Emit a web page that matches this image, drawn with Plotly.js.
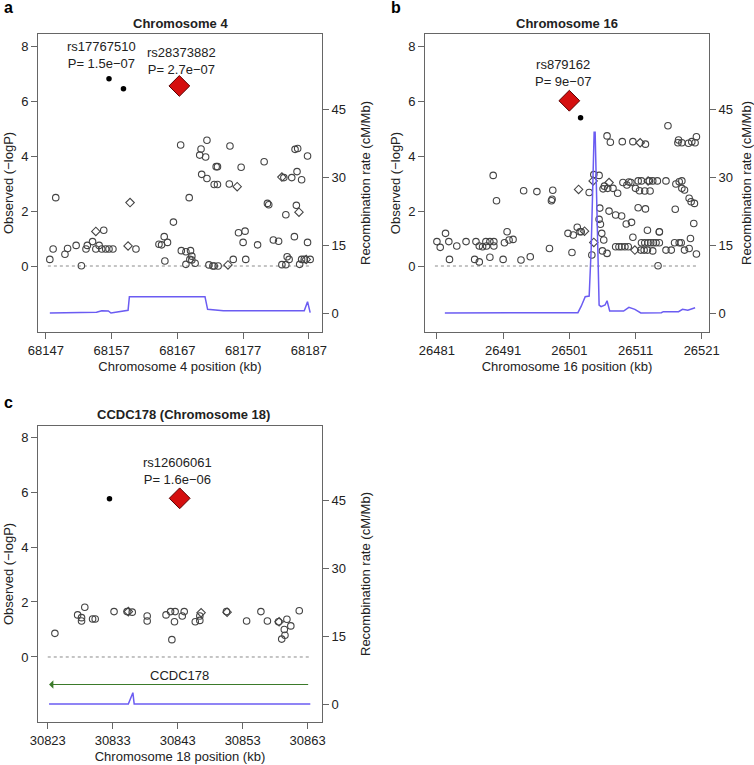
<!DOCTYPE html>
<html>
<head>
<meta charset="utf-8">
<script src="https://cdn.plot.ly/plotly-3.0.1.min.js"></script>
<style>html,body{margin:0;padding:0;background:#fff;}#chart{width:754px;height:765px;}</style>
</head>
<body>
<div id="chart"></div>
<script>
// ---------- Panel a : Chromosome 4 ----------
const aTicks = [68147, 68157, 68167, 68177, 68187];
const aCircleX = [68167.5,68171.5,68170.6,68170.4,68171.3,68172.9,68173.1,68175.0,68176.7,68180.2,68184.9,68185.3,68186.8,68170.7,68171.5,68172.6,68173.1,68174.9,68183.2,68184.4,68185.2,68185.9,68168.8,68180.7,68180.9,68183.5,68185.1,68184.8,68186.8,68166.4,68165.0,68165.5,68164.2,68164.6,68165.1,68167.6,68168.3,68169.0,68169.2,68168.9,68169.2,68168.3,68169.7,68171.8,68172.4,68172.6,68173.2,68175.5,68176.3,68177.3,68177.0,68177.4,68179.2,68181.6,68182.4,68182.9,68183.5,68183.7,68184.0,68185.6,68185.9,68186.3,68187.2,68147.6,68148.5,68148.1,68149.9,68150.3,68151.6,68152.4,68153.1,68153.3,68154.1,68154.6,68155.1,68155.5,68155.8,68156.1,68156.6,68157.2,68160.7];
const aCircleY = [4.41,4.58,4.26,4.04,3.97,3.62,3.62,4.37,3.60,3.80,4.25,4.28,4.01,3.34,3.19,2.97,2.97,2.99,3.22,3.22,3.44,3.14,2.49,2.28,2.23,1.87,2.21,1.07,0.86,1.60,1.07,0.86,0.79,0.77,0.18,0.56,0.52,0.56,0.36,0.24,0.22,0.06,0.10,0.04,0.0,0.0,0.0,0.24,1.21,1.27,0.86,0.24,0.77,0.95,0.90,0.05,0.05,0.34,0.24,0.06,0.24,0.24,0.24,0.24,2.49,0.62,0.43,0.64,0.75,0.01,0.62,0.75,0.89,0.62,0.75,0.62,1.30,0.62,0.62,0.62,0.62];
const aDiamondX = [68159.8,68154.6,68159.5,68176.1,68174.7,68185.5,68186.6,68182.9];
const aDiamondY = [2.31,1.26,0.73,2.89,0.04,1.96,0.24,3.24];
const aTopX = [68156.6, 68158.8];
const aTopY = [6.82, 6.46];
const aLeadX = [68167.3];
const aLeadY = [6.56];
const aRecX = [68147.6,68154.7,68155.5,68156.5,68156.9,68157.7,68159.5,68159.7,68171.2,68171.6,68174.0,68186.3,68186.8,68187.2];
const aRecY = [0,0.15,0.5,0.44,0,0.15,0.6,3.6,3.6,0.82,0.5,0.5,2.5,0.07];
const aZeroX = [68147.3, 68187.2];

// ---------- Panel b : Chromosome 16 ----------
const bTicks = [26481, 26491, 26501, 26511, 26521];
const bCircleX = [26515.9,26506.7,26507.2,26509.0,26510.6,26512.5,26517.5,26517.4,26518.0,26519.0,26519.5,26520.0,26520.2,26489.5,26504.7,26505.5,26490.0,26494.1,26496.1,26498.5,26498.3,26498.4,26504.0,26506.1,26506.3,26506.8,26507.6,26508.3,26509.1,26509.7,26510.0,26510.3,26511.0,26511.4,26511.9,26511.6,26512.4,26513.2,26513.1,26513.6,26514.3,26515.6,26517.1,26517.6,26518.0,26518.0,26518.4,26519.1,26519.4,26519.9,26505.6,26507.0,26508.0,26508.9,26509.6,26510.4,26511.4,26512.5,26517.0,26519.8,26512.8,26514.6,26510.6,26505.5,26505.7,26505.9,26506.2,26506.0,26506.7,26481.0,26481.5,26482.3,26482.8,26482.9,26484.0,26485.4,26486.7,26487.4,26486.9,26487.4,26487.9,26488.4,26488.5,26489.0,26489.0,26489.6,26489.6,26491.0,26491.2,26491.6,26491.9,26492.5,26493.7,26495.1,26498.0,26500.8,26501.4,26501.6,26502.2,26502.6,26502.8,26504.4,26508.0,26508.5,26508.9,26509.4,26509.9,26511.8,26512.3,26512.8,26513.6,26511.9,26512.4,26512.9,26513.3,26513.7,26514.1,26514.6,26514.4,26514.6,26515.6,26516.4,26516.9,26517.6,26517.9,26518.4,26519.1,26519.3,26520.2];
const bCircleY = [5.11,4.74,4.51,4.53,4.53,4.44,4.59,4.49,4.49,4.47,4.53,4.49,4.71,3.30,3.33,3.30,2.38,2.74,2.71,2.76,2.38,2.43,2.68,2.81,2.91,2.83,2.83,2.65,3.04,2.95,3.06,3.04,2.83,3.10,3.10,2.74,2.73,2.73,3.10,3.10,3.10,3.10,2.99,3.07,3.10,2.83,2.77,2.47,2.34,2.28,2.11,2.00,1.86,1.82,1.53,1.59,2.12,2.08,2.07,1.55,1.30,1.25,1.05,1.70,1.52,1.19,0.95,0.55,0.46,0.89,0.68,1.19,0.89,0.24,0.73,0.89,0.24,0.15,0.89,0.73,0.70,0.89,0.73,0.32,0.89,0.89,0.73,0.24,0.85,1.25,0.95,0.97,0.22,0.34,0.64,1.19,0.49,1.13,1.41,1.25,1.25,0.40,0.70,0.70,0.70,0.70,0.70,0.58,0.58,0.58,0.55,0.85,0.85,0.85,0.85,0.85,0.85,0.85,0.01,1.24,0.58,0.58,0.85,0.85,0.85,0.58,0.64,1.00,0.44];
const bDiamondX = [26502.4,26504.6,26507.0,26504.7,26511.7,26510.9,26503.3,26512.9];
const bDiamondY = [2.79,3.10,3.04,0.86,4.49,0.58,1.27,3.10];
const bTopX = [26502.7];
const bTopY = [5.40];
const bLeadX = [26501.0];
const bLeadY = [6.02];
const bRecX = [26482.2,26502.3,26502.8,26503.4,26504.0,26504.3,26504.75,26504.9,26505.5,26505.8,26506.4,26506.7,26507.1,26509.2,26510.0,26510.9,26511.8,26514.9,26515.2,26517.5,26518.1,26518.9,26520.0];
const bRecY = [0,0.07,1.5,3.6,3.75,14,39.9,39.9,1.76,1.4,1.76,2.7,0.44,0.44,1.26,0.8,0,0.07,0.3,0.3,0.8,0.6,1.17];
const bZeroX = [26480.7, 26520.2];

// ---------- Panel c : CCDC178 (Chromosome 18) ----------
const cTicks = [30823, 30833, 30843, 30853, 30863];
const cCircleX = [30824.1,30827.6,30828.2,30828.2,30828.7,30829.9,30830.3,30833.2,30836.0,30838.3,30838.3,30841.2,30841.9,30842.6,30842.5,30842.1,30843.7,30844.0,30845.7,30846.4,30846.4,30850.5,30853.6,30855.8,30856.8,30858.5,30859.0,30859.5,30859.4,30859.8,30860.4,30861.7,30835.2];
const cCircleY = [0.86,1.53,1.43,1.31,1.81,1.38,1.38,1.65,1.63,1.49,1.31,1.53,1.65,1.65,1.28,0.63,1.49,1.65,1.28,1.49,1.33,1.65,1.31,1.65,1.31,1.28,0.65,0.79,1.00,1.37,1.13,1.68,1.65];
const cDiamondX = [30835.4,30846.6,30850.6,30858.6];
const cDiamondY = [1.65,1.61,1.63,1.28];
const cTopX = [30832.5];
const cTopY = [5.75];
const cLeadX = [30843.3];
const cLeadY = [5.77];
const cRecX = [30823.2,30835.4,30836.1,30836.3,30863.4];
const cRecY = [0,0,2.5,0,0];
const cZeroX = [30823.0, 30863.3];
const cGeneX = [30863.3, 30823.2];
const cGeneY = [-1, -1];
const cGeneName = 'CCDC178';

const leftTicks = [0, 2, 4, 6, 8];
const rightTicks = [0, 15, 30, 45];

const FONT = 'Liberation Sans, Arial, Helvetica, sans-serif';
const REC_COLOR = '#6b5cf2';
const PT_COLOR = '#444444';

function panelTraces(xa, ya, yr, d) {
  return [
    {x: d.zeroX, y: d.zeroX.map(() => 0), xaxis: xa, yaxis: ya, mode: 'lines',
     line: {color: '#8a8a8a', width: 1, dash: 'dot'}, hoverinfo: 'skip', showlegend: false},
    {x: d.cx, y: d.cy, xaxis: xa, yaxis: ya, mode: 'markers', showlegend: false,
     marker: {symbol: 'circle-open', size: 6.5, color: PT_COLOR, line: {width: 1.1, color: PT_COLOR}}},
    {x: d.dx, y: d.dy, xaxis: xa, yaxis: ya, mode: 'markers', showlegend: false,
     marker: {symbol: 'diamond-open', size: 6.5, color: PT_COLOR, line: {width: 1.1, color: PT_COLOR}}},
    {x: d.tx, y: d.ty, xaxis: xa, yaxis: ya, mode: 'markers', showlegend: false,
     marker: {symbol: 'circle', size: 5.5, color: '#000'}},
    {x: d.lx, y: d.ly, xaxis: xa, yaxis: ya, mode: 'markers', showlegend: false,
     marker: {symbol: 'diamond', size: 16, color: '#d50f0f', line: {width: 1, color: '#5a0000'}}},
    {x: d.rx, y: d.ry, xaxis: xa, yaxis: yr, mode: 'lines', showlegend: false,
     line: {color: REC_COLOR, width: 1.5}}
  ];
}

const data = [].concat(
  panelTraces('x', 'y', 'y2', {zeroX: aZeroX, cx: aCircleX, cy: aCircleY, dx: aDiamondX, dy: aDiamondY, tx: aTopX, ty: aTopY, lx: aLeadX, ly: aLeadY, rx: aRecX, ry: aRecY}),
  panelTraces('x2', 'y3', 'y4', {zeroX: bZeroX, cx: bCircleX, cy: bCircleY, dx: bDiamondX, dy: bDiamondY, tx: bTopX, ty: bTopY, lx: bLeadX, ly: bLeadY, rx: bRecX, ry: bRecY}),
  panelTraces('x3', 'y5', 'y6', {zeroX: cZeroX, cx: cCircleX, cy: cCircleY, dx: cDiamondX, dy: cDiamondY, tx: cTopX, ty: cTopY, lx: cLeadX, ly: cLeadY, rx: cRecX, ry: cRecY})
);

function xAxis(domain, range, ticks, anchor, title) {
  return {domain: domain, range: range, anchor: anchor, tickvals: ticks, ticktext: ticks.map(String),
    showline: true, mirror: true, linecolor: '#666', linewidth: 1, ticks: 'outside', ticklen: 6,
    tickcolor: '#666', showgrid: false, zeroline: false, tickfont: {size: 13, color: '#222', family: FONT},
    title: {text: title, standoff: 5, font: {size: 13, color: '#222', family: FONT}}, fixedrange: true};
}
function yLeft(domain, range, anchor) {
  return {domain: domain, range: range, anchor: anchor, tickvals: leftTicks, ticktext: leftTicks.map(String),
    showline: true, mirror: true, linecolor: '#666', linewidth: 1, ticks: 'outside', ticklen: 6,
    tickcolor: '#666', showgrid: false, zeroline: false, tickfont: {size: 13, color: '#222', family: FONT},
    title: {text: 'Observed (−logP)', standoff: 4, font: {size: 13, color: '#222', family: FONT}}};
}
function yRight(overlay, range, anchor) {
  return {overlaying: overlay, side: 'right', range: range, anchor: anchor, tickvals: rightTicks, ticktext: rightTicks.map(String),
    showline: false, ticks: 'outside', ticklen: 6, tickcolor: '#666', showgrid: false, zeroline: false,
    tickfont: {size: 13, color: '#222', family: FONT},
    title: {text: 'Recombination rate (cM/Mb)', standoff: 15, font: {size: 13, color: '#222', family: FONT}}};
}

const W = 754, H = 765;
const px = v => v / W, py = v => 1 - v / H;
const domA = [px(38), px(322)], domB = [px(425), px(709)];
const domTop = [py(332), py(34)], domBot = [py(722), py(426)];

const annFont = {size: 13, color: '#222', family: FONT};
const layout = {
  width: W, height: H, margin: {l: 0, r: 0, t: 0, b: 0},
  paper_bgcolor: '#fff', plot_bgcolor: '#fff', showlegend: false,
  font: {family: FONT, size: 13, color: '#222'},
  xaxis: xAxis(domA, [68145.8, 68189.0], aTicks, 'y', 'Chromosome 4 position (kb)'),
  yaxis: yLeft(domTop, [-2.404, 8.452], 'x'),
  yaxis2: yRight('y', [-4.19, 61.55], 'x'),
  xaxis2: xAxis(domB, [26479.2, 26522.1], bTicks, 'y3', 'Chromosome 16 position (kb)'),
  yaxis3: yLeft(domTop, [-2.404, 8.452], 'x2'),
  yaxis4: yRight('y3', [-4.19, 61.55], 'x2'),
  xaxis3: xAxis(domA, [30821.5, 30865.2], cTicks, 'y5', 'Chromosome 18 position (kb)'),
  yaxis5: yLeft(domBot, [-2.364, 8.4], 'x3'),
  yaxis6: yRight('y5', [-3.97, 61.33], 'x3'),
  annotations: [
    {xref: 'paper', yref: 'paper', x: px(2), y: py(8), xanchor: 'left', yanchor: 'middle', text: '<b>a</b>', showarrow: false, font: {size: 16, color: '#000', family: FONT}},
    {xref: 'paper', yref: 'paper', x: px(389), y: py(8), xanchor: 'left', yanchor: 'middle', text: '<b>b</b>', showarrow: false, font: {size: 16, color: '#000', family: FONT}},
    {xref: 'paper', yref: 'paper', x: px(2), y: py(402), xanchor: 'left', yanchor: 'middle', text: '<b>c</b>', showarrow: false, font: {size: 16, color: '#000', family: FONT}},
    {xref: 'paper', yref: 'paper', x: px(180), y: py(23), xanchor: 'center', yanchor: 'middle', text: '<b>Chromosome 4</b>', showarrow: false, font: annFont},
    {xref: 'paper', yref: 'paper', x: px(567), y: py(23), xanchor: 'center', yanchor: 'middle', text: '<b>Chromosome 16</b>', showarrow: false, font: annFont},
    {xref: 'paper', yref: 'paper', x: px(183), y: py(414), xanchor: 'center', yanchor: 'middle', text: '<b>CCDC178 (Chromosome 18)</b>', showarrow: false, font: annFont},
    {xref: 'x', yref: 'y', x: 68155.5, y: 7.67, text: 'rs17767510<br>P= 1.5e−07', showarrow: false, font: annFont},
    {xref: 'x', yref: 'y', x: 68167.7, y: 7.47, text: 'rs28373882<br>P= 2.7e−07', showarrow: false, font: annFont},
    {xref: 'x2', yref: 'y3', x: 26500.0, y: 7.03, text: 'rs879162<br>P= 9e−07', showarrow: false, font: annFont},
    {xref: 'x3', yref: 'y5', x: 30843.0, y: 6.76, text: 'rs12606061<br>P= 1.6e−06', showarrow: false, font: annFont},
    {xref: 'x3', yref: 'y5', x: cGeneX[1], y: cGeneY[1], ax: cGeneX[0], ay: cGeneY[0], axref: 'x3', ayref: 'y5',
     text: '', showarrow: true, arrowhead: 1, arrowsize: 1.2, arrowwidth: 1.2, arrowcolor: '#3b7a2a'},
    {xref: 'x3', yref: 'y5', x: (cGeneX[0] + cGeneX[1]) / 2, y: cGeneY[0] + 0.32, text: cGeneName, showarrow: false, font: annFont}
  ]
};

Plotly.newPlot('chart', data, layout, {staticPlot: true, displayModeBar: false});
</script>
</body>
</html>
